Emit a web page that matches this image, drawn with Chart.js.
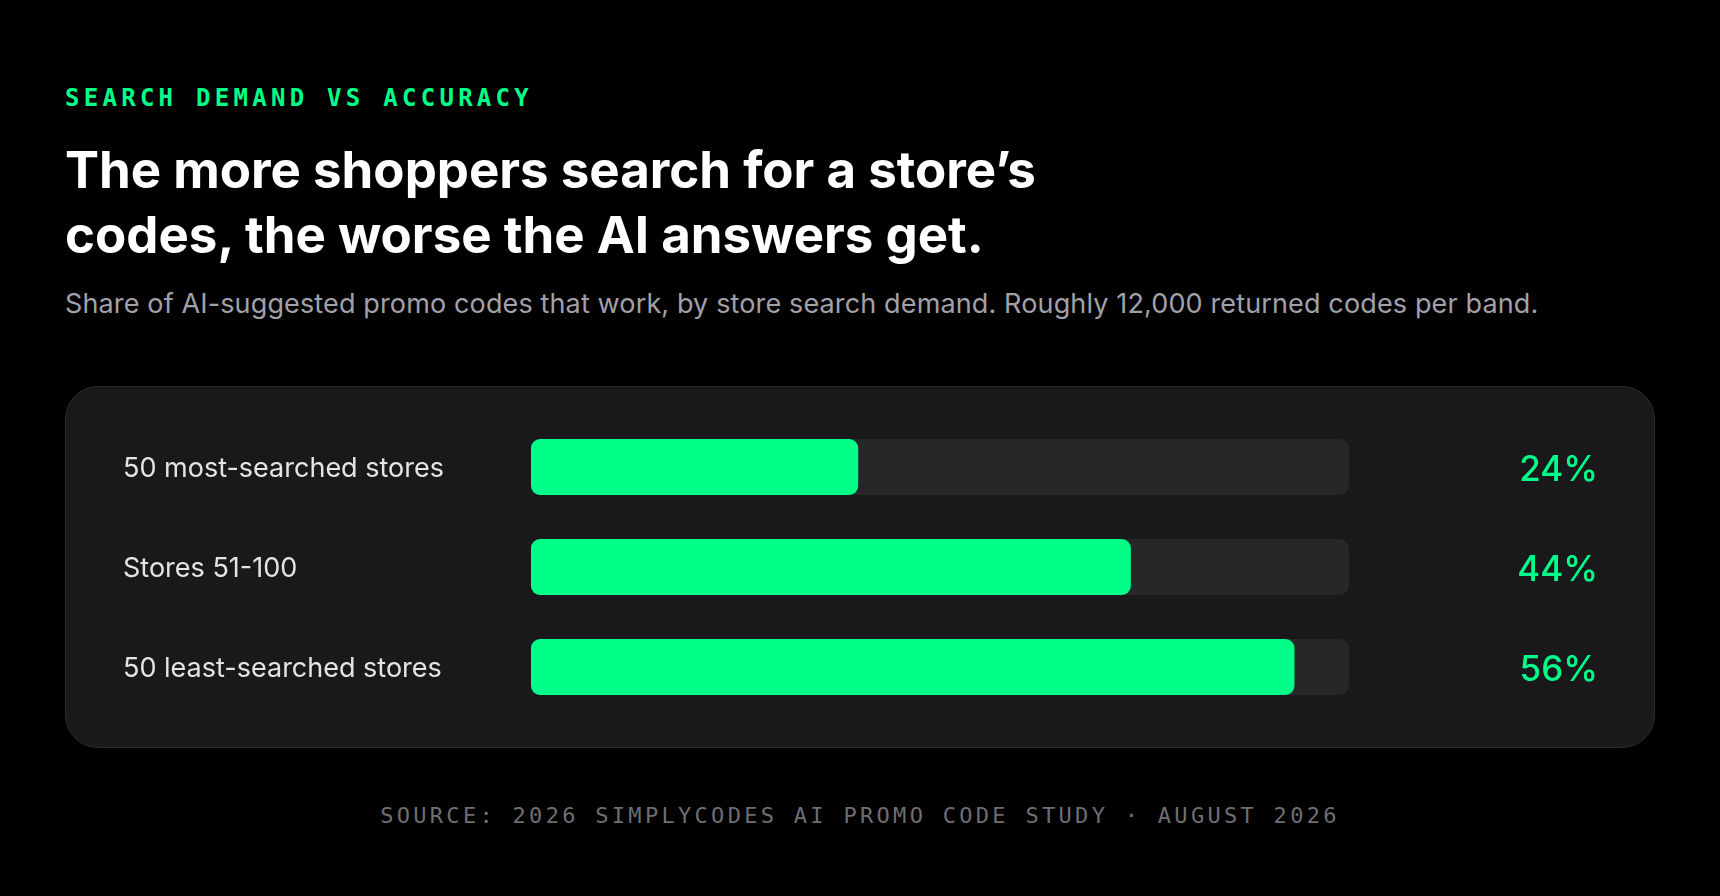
<!DOCTYPE html>
<html>
<head>
<meta charset="utf-8">
<title>Search demand vs accuracy</title>
<script src="https://cdn.jsdelivr.net/npm/chart.js@4.4.1/dist/chart.umd.min.js"></script>
<style>
  html, body {
    margin: 0;
    padding: 0;
    background: #000;
  }
  body {
    position: relative;
    width: 1720px;
    height: 896px;
    overflow: hidden;
    font-family: Inter, "Noto Sans", sans-serif;
  }
  .eyebrow {
    position: absolute;
    left: 65px;
    top: 86px;
    font-family: "DejaVu Sans Mono", monospace;
    font-weight: bold;
    font-size: 24px;
    line-height: 24px;
    letter-spacing: 0.178em;
    color: #00ff88;
    white-space: nowrap;
  }
  .title {
    position: absolute;
    left: 65px;
    top: 137px;
    margin: 0;
    font-size: 51px;
    line-height: 65px;
    font-weight: 700;
    letter-spacing: 0;
    color: #fff;
    white-space: nowrap;
  }
  .subtitle {
    position: absolute;
    left: 65px;
    top: 289px;
    margin: 0;
    font-size: 27px;
    line-height: 30px;
    letter-spacing: 0.005em;
    color: #a1a1aa;
    white-space: nowrap;
  }
  .panel {
    position: absolute;
    left: 65px;
    top: 386px;
    width: 1590px;
    height: 362px;
    box-sizing: border-box;
    border: 1px solid #2c2c30;
    border-radius: 33px;
    background: #19191c;
  }
  .panel canvas {
    display: block;
  }
  .source {
    position: absolute;
    left: 0;
    top: 805px;
    width: 1720px;
    text-align: center;
    font-family: "DejaVu Sans Mono", monospace;
    font-size: 22px;
    line-height: 22px;
    letter-spacing: 0.15em;
    color: #6e6e73;
    white-space: nowrap;
  }
</style>
</head>
<body>
<div class="eyebrow">SEARCH DEMAND VS ACCURACY</div>
<h1 class="title">The more shoppers search for a store’s<br>codes, the worse the AI answers get.</h1>
<p class="subtitle">Share of AI-suggested promo codes that work, by store search demand. Roughly 12,000 returned codes per band.</p>
<div class="panel"><canvas id="chart" width="1588" height="360"></canvas></div>
<div class="source">SOURCE: 2026 SIMPLYCODES AI PROMO CODE STUDY · AUGUST 2026</div>

<script>
// data
const bands = ['50 most-searched stores', 'Stores 51-100', '50 least-searched stores'];
const workingShare = [24, 44, 56];
const trackValues = [60, 60, 60];
const axisMax = 60;

const green = '#00ff88';
const track = '#27272a';

document.addEventListener('DOMContentLoaded', function() {
    const ctx = document.getElementById('chart').getContext('2d');

    new Chart(ctx, {
        type: 'bar',
        data: {
            labels: bands,
            datasets: [{
                label: 'Codes that work',
                data: workingShare,
                backgroundColor: green,
                borderRadius: 9,
                borderSkipped: false,
                barPercentage: 0.56,
                categoryPercentage: 1,
                grouped: false,
                order: 0
            }, {
                label: 'Track',
                data: trackValues,
                backgroundColor: track,
                borderRadius: 9,
                borderSkipped: false,
                barPercentage: 0.56,
                categoryPercentage: 1,
                grouped: false,
                order: 1
            }]
        },
        options: {
            indexAxis: 'y',
            responsive: false,
            animation: false,
            layout: {
                padding: { left: 57, right: 56, top: 30, bottom: 30 }
            },
            plugins: {
                legend: { display: false },
                tooltip: { enabled: false }
            },
            scales: {
                x: {
                    type: 'linear',
                    min: 0,
                    max: axisMax,
                    display: false
                },
                y: {
                    position: 'left',
                    grid: { display: false },
                    border: { display: false },
                    ticks: {
                        autoSkip: false,
                        crossAlign: 'far',
                        labelOffset: 2,
                        color: '#e4e4e7',
                        font: { family: 'Inter', size: 27 }
                    },
                    afterFit: (scale) => { scale.width = 408; }
                },
                y2: {
                    type: 'category',
                    position: 'right',
                    labels: workingShare.map(v => v + '%'),
                    offset: true,
                    grid: { display: false },
                    border: { display: false },
                    ticks: {
                        autoSkip: false,
                        crossAlign: 'far',
                        labelOffset: 3,
                        color: green,
                        font: { family: 'Inter', size: 35, weight: '500' }
                    },
                    afterFit: (scale) => { scale.width = 249; }
                }
            }
        }
    });
});
</script>
</body>
</html>
